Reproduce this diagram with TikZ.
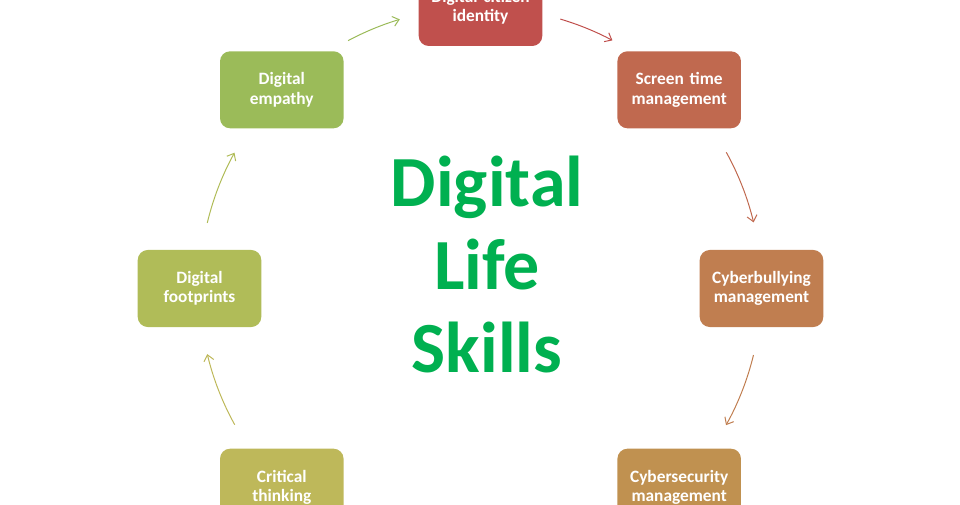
\documentclass[tikz,border=0pt]{standalone}
\usepackage{fontspec}
\setmainfont{Carlito}
\usepackage{tikz}
\usetikzlibrary{arrows.meta}
\definecolor{citizencol}{HTML}{C0504D}
\definecolor{screencol}{HTML}{C0694F}
\definecolor{bullycol}{HTML}{C07E50}
\definecolor{securecol}{HTML}{C09150}
\definecolor{criticalcol}{HTML}{BEB85A}
\definecolor{footcol}{HTML}{B0BC58}
\definecolor{empathycol}{HTML}{9BBB59}
\definecolor{titlegreen}{HTML}{00B050}
\tikzset{
  >={Straight Barb[length=4.5pt,width=7.5pt]},
  skillbox/.style={rectangle, rounded corners=7.5pt, fill=#1, text=white,
                   minimum width=91.5pt, minimum height=57.75pt, text width=86pt,
                   align=center, font=\bfseries\fontsize{13}{14.6}\selectfont},
  cyclearrow/.style={draw=#1, line width=0.75pt, ->},
  title/.style={text=titlegreen, align=center, font=\bfseries\fontsize{54}{62}\selectfont}
}

\begin{document}
\begin{tikzpicture}[x=0.75pt,y=0.75pt]
      \useasboundingbox (0,0) rectangle (960,504);
      \clip (0,0) rectangle (960,504);
      \coordinate (hub) at (480.5,215.5);

      % Draw skill boxes round the circle.
      \node[skillbox=citizencol] (citizen) at ([shift={(90:210.75pt)}]hub) {Digital citizen\\identity};
      \node[skillbox=screencol] (screentime) at ([shift={(45:210.75pt)}]hub) {Screen time\\management};
      \node[skillbox=bullycol] (bullying) at ([shift={(0:210.75pt)}]hub) {Cyberbullying\\management};
      \node[skillbox=securecol] (security) at ([shift={(-45:210.75pt)}]hub) {Cybersecurity\\management};
      \node[skillbox=criticalcol] (critical) at ([shift={(-135:210.75pt)}]hub) {Critical\\thinking};
      \node[skillbox=footcol] (footprints) at ([shift={(180:210.75pt)}]hub) {Digital\\footprints};
      \node[skillbox=empathycol] (empathy) at ([shift={(135:210.75pt)}]hub) {Digital\\empathy};

      % Draw title in the middle.
      \node[title] (skills) at (487,239.5) {Digital\\Life\\Skills};

      % Now draw arrows along the circle, clockwise.
      \coordinate (citizenout) at ([shift={(73.5:210.75pt)}]hub);
      \draw[cyclearrow=citizencol] (citizenout) arc[start angle=73.5, end angle=62, radius=210.75pt];
      \coordinate (screenout) at ([shift={(29:210.75pt)}]hub);
      \draw[cyclearrow=screencol] (screenout) arc[start angle=29, end angle=13.6, radius=210.75pt];
      \coordinate (bullyout) at ([shift={(-13.7:210.75pt)}]hub);
      \draw[cyclearrow=bullycol] (bullyout) arc[start angle=-13.7, end angle=-29.1, radius=210.75pt];
      \coordinate (criticalout) at ([shift={(209:210.75pt)}]hub);
      \draw[cyclearrow=criticalcol] (criticalout) arc[start angle=209, end angle=193.5, radius=210.75pt];
      \coordinate (footout) at ([shift={(166.5:210.75pt)}]hub);
      \draw[cyclearrow=footcol] (footout) arc[start angle=166.5, end angle=151.1, radius=210.75pt];
      \coordinate (empathyout) at ([shift={(118.1:210.75pt)}]hub);
      \draw[cyclearrow=empathycol] (empathyout) arc[start angle=118.1, end angle=106.7, radius=210.75pt];

    \end{tikzpicture}
\end{document}
